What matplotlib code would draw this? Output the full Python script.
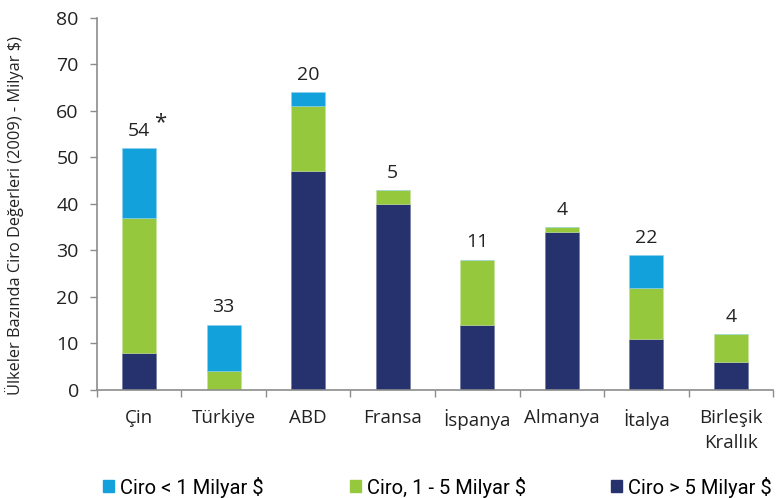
import numpy as np
import matplotlib.pyplot as plt
from matplotlib.patches import Patch

plt.rcParams['font.family'] = ['Open Sans', 'DejaVu Sans']

countries = ['Çin', 'Türkiye', 'ABD', 'Fransa', 'İspanya', 'Almanya', 'İtalya', 'Birleşik\nKrallık']
big = [8, 0, 47, 40, 14, 34, 11, 6]       # Ciro > 5 Milyar $
mid = [29, 4, 14, 3, 14, 1, 11, 6]        # Ciro, 1 - 5 Milyar $
small = [15, 10, 3, 0, 0, 0, 7, 0]        # Ciro < 1 Milyar $
counts = ['54', '33', '20', '5', '11', '4', '22', '4']

c_small = '#13A1DC'
c_mid = '#96C83E'
c_big = '#25326E'
grey = '#8C8C8C'

fig = plt.figure(figsize=(7.81, 4.98), dpi=100)
ax = fig.add_axes([0.124, 0.217, 0.866, 0.747])

x = np.arange(len(countries))
w = 0.4
big = np.array(big)
mid = np.array(mid)
small = np.array(small)
ax.bar(x, big, w, color=c_big, edgecolor='#6a74a0', linewidth=0.4)
ax.bar(x, mid, w, bottom=big, color=c_mid, edgecolor='#c8e39a', linewidth=0.4)
ax.bar(x, small, w, bottom=big + mid, color=c_small, edgecolor='#8fd0ee', linewidth=0.4)

tops = big + mid + small
for xi, t, lab in zip(x, tops, counts):
    ax.annotate(lab, (xi, t), xytext=(0, 6), textcoords='offset points',
                ha='center', va='bottom', fontsize=14, color='#222222')
# star on the China label
ax.annotate('*', (x[0], tops[0]), xytext=(15, 11), textcoords='offset points',
            ha='center', va='bottom', fontsize=16, color='#222222')

ax.set_xlim(-0.5, len(countries) - 0.5)
ax.set_ylim(0, 80)
ax.set_yticks(range(0, 81, 10))
ax.set_xticks(x)
ax.set_xticklabels(countries, fontsize=13.5, color='#222222', linespacing=1.45)
ax.set_xticks(np.arange(-0.5, len(countries)), minor=True)
ax.tick_params(axis='x', which='major', length=0, pad=14)
ax.tick_params(axis='x', which='minor', length=5, width=1, color=grey, direction='out')
ax.tick_params(axis='y', length=5, width=1, color=grey, labelsize=14, labelcolor='#222222', pad=8)

for s in ['top', 'right']:
    ax.spines[s].set_visible(False)
for s in ['left', 'bottom']:
    ax.spines[s].set_color(grey)
    ax.spines[s].set_linewidth(1.2)

ax.set_ylabel('Ülkeler Bazında Ciro Değerleri (2009) - Milyar $)', fontsize=11.8, color='#222222')
ax.yaxis.set_label_coords(-0.108, 0.47)

handles = [Patch(color=c_small, label='Ciro < 1 Milyar $'),
           Patch(color=c_mid, label='Ciro, 1 - 5 Milyar $'),
           Patch(color=c_big, label='Ciro > 5 Milyar $')]
fig.legend(handles=handles, loc='center', ncol=3, bbox_to_anchor=(0.122, 0.0, 0.877, 0.044),
           mode='expand', frameon=False, handlelength=0.55, handleheight=0.55,
           handletextpad=0.3, borderaxespad=0,
           prop={'family': ['Roboto', 'Open Sans'], 'size': 14.5})

fig.savefig('out.png', dpi=100)
